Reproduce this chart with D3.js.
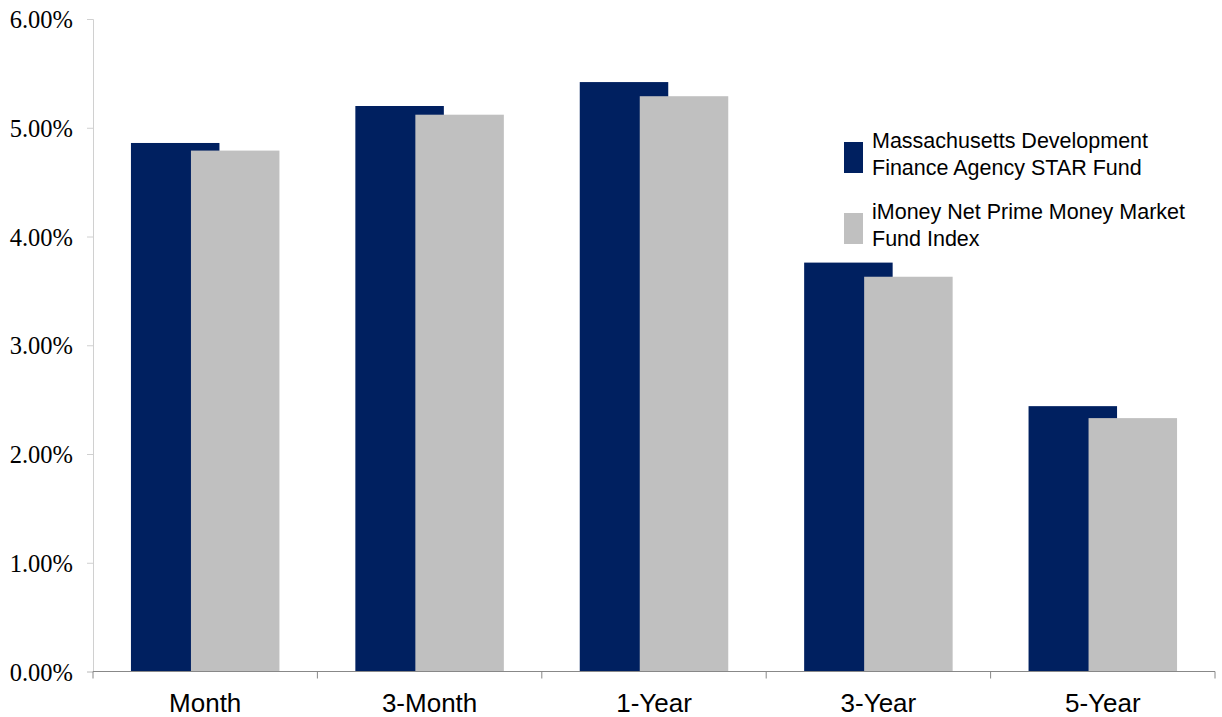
<!DOCTYPE html>
<html>
<head>
<meta charset="utf-8">
<script src="https://cdnjs.cloudflare.com/ajax/libs/d3/7.8.5/d3.min.js"></script>
<style>
  body { margin: 0; background: #fff; }
</style>
</head>
<body>
<div id="chart"></div>
<script>
// data
var categories = ['Month', '3-Month', '1-Year', '3-Year', '5-Year'];
var seriesNames = ['Massachusetts Development Finance Agency STAR Fund', 'iMoney Net Prime Money Market Fund Index'];
var starFund = [4.86, 5.20, 5.42, 3.76, 2.44];
var imoneyIndex = [4.79, 5.12, 5.29, 3.63, 2.33];
var yTicks = [0, 1, 2, 3, 4, 5, 6];
var colors = ['#002060', '#c0c0c0'];

var W = 1222, H = 717;
var plotLeft = 93, plotRight = 1215, plotTop = 19, plotBottom = 671.5;

var svg = d3.select('#chart').append('svg')
  .attr('width', W)
  .attr('height', H);

var x = d3.scaleBand().domain(categories).range([plotLeft, plotRight]);
var y = d3.scaleLinear().domain([0, 6]).range([plotBottom, plotTop]);

// bars overlap: each ~88px wide, second shifted by 60px
var barW = 88.5, shift = 60;
var groupW = barW + shift;

var series = [starFund, imoneyIndex];
series.forEach(function(vals, s) {
  svg.append('g').selectAll('rect')
    .data(vals)
    .enter()
    .append('rect')
    .attr('x', function(d, i) { return x(categories[i]) + x.bandwidth() / 2 - groupW / 2 + s * shift; })
    .attr('y', function(d) { return y(d); })
    .attr('width', barW)
    .attr('height', function(d) { return plotBottom - y(d); })
    .attr('fill', colors[s]);
});

// y axis
var yAxis = d3.axisLeft(y)
  .tickValues(yTicks)
  .tickSize(6)
  .tickFormat(function(d) { return d.toFixed(2) + '%'; });
var gy = svg.append('g')
  .attr('transform', 'translate(' + plotLeft + ',0)')
  .call(yAxis);
gy.select('.domain').attr('stroke', '#d0d0d0');
gy.selectAll('.tick line').attr('stroke', '#d0d0d0');
gy.selectAll('.tick text')
  .attr('x', -20)
  .attr('dy', '0.35em')
  .attr('fill', '#000')
  .style('font-family', '"Liberation Serif", "Times New Roman", serif')
  .style('font-size', '24.5px');

// x axis: ticks at category boundaries
svg.append('line')
  .attr('x1', plotLeft).attr('x2', plotRight)
  .attr('y1', plotBottom).attr('y2', plotBottom)
  .attr('stroke', '#888');
var bounds = categories.map(function(c) { return x(c); }).concat([plotRight]);
svg.append('g').selectAll('line')
  .data(bounds)
  .enter()
  .append('line')
  .attr('x1', function(d) { return d; })
  .attr('x2', function(d) { return d; })
  .attr('y1', plotBottom)
  .attr('y2', plotBottom + 7)
  .attr('stroke', '#888');
svg.append('g').selectAll('text')
  .data(categories)
  .enter()
  .append('text')
  .attr('x', function(d) { return x(d) + x.bandwidth() / 2; })
  .attr('y', 712)
  .attr('text-anchor', 'middle')
  .style('font-family', '"Liberation Sans", Arial, sans-serif')
  .style('font-size', '26px')
  .text(function(d) { return d; });

// legend
var legendLines = [
  ['Massachusetts Development', 'Finance Agency STAR Fund'],
  ['iMoney Net Prime Money Market', 'Fund Index']
];
var legendTop = [142, 213];
legendLines.forEach(function(lines, i) {
  svg.append('rect')
    .attr('x', 844).attr('y', legendTop[i])
    .attr('width', 19).attr('height', 31)
    .attr('fill', colors[i]);
  var t = svg.append('text')
    .attr('x', 872)
    .attr('y', legendTop[i] + 6)
    .style('font-family', '"Liberation Sans", Arial, sans-serif')
    .style('font-size', '21.5px')
    .attr('fill', '#000');
  lines.forEach(function(l, j) {
    t.append('tspan').attr('x', 872).attr('dy', j === 0 ? 0 : 27).text(l);
  });
});
</script>
</body>
</html>
